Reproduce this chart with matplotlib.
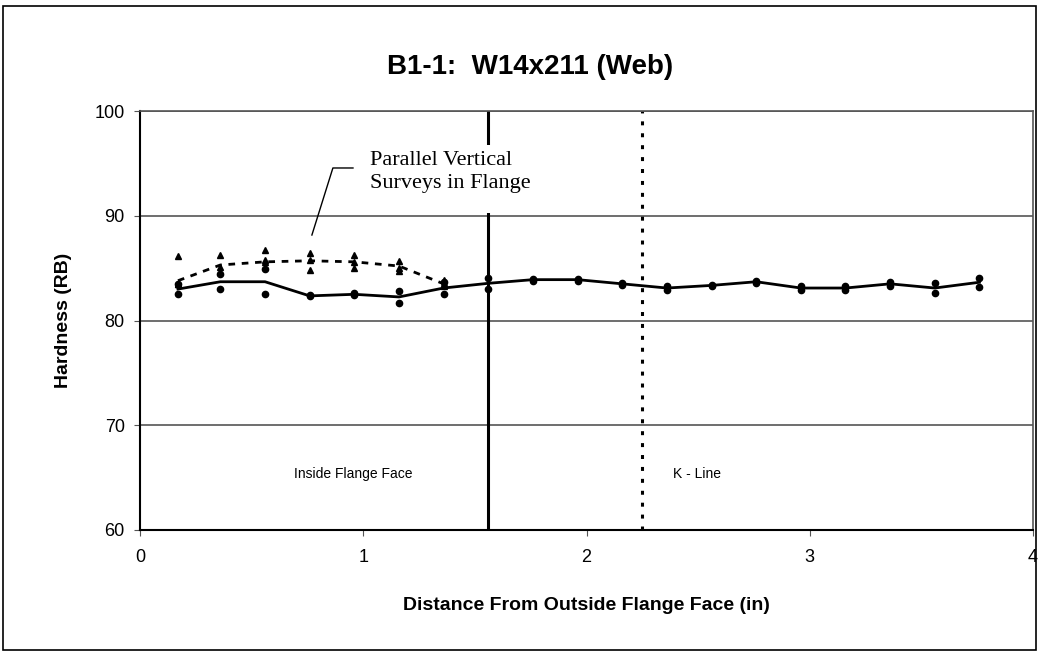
import matplotlib.pyplot as plt
from matplotlib.patches import Rectangle
import numpy as np

plt.rcParams['font.family'] = ['Liberation Sans', 'DejaVu Sans']

# ---- data ----
web_x = [0.17, 0.36, 0.56, 0.76, 0.96, 1.16, 1.36, 1.56, 1.76, 1.96,
         2.16, 2.36, 2.56, 2.76, 2.96, 3.16, 3.36, 3.56, 3.76]
web_a = [82.5, 83.0, 82.5, 82.3, 82.4, 81.7, 82.5, 83.0, 83.8, 83.8,
         83.4, 82.9, 83.3, 83.6, 82.9, 82.9, 83.3, 82.6, 83.2]
web_b = [83.5, 84.4, 84.9, 82.4, 82.6, 82.8, 83.7, 84.1, 84.0, 84.0,
         83.6, 83.3, 83.4, 83.8, 83.3, 83.3, 83.7, 83.6, 84.1]
web_avg = [83.0, 83.7, 83.7, 82.35, 82.5, 82.25, 83.1, 83.55, 83.9, 83.9,
           83.5, 83.1, 83.35, 83.7, 83.1, 83.1, 83.5, 83.1, 83.65]

flange_x = [0.17, 0.36, 0.56, 0.76, 0.96, 1.16, 1.36]
flange_1 = [86.2, 86.3, 86.7, 86.4, 86.3, 85.7, 83.9]
flange_2 = [83.5, 85.1, 85.8, 85.8, 85.6, 85.0, 83.6]
flange_3 = [83.5, 84.6, 85.6, 84.8, 85.0, 84.7, 83.3]
flange_avg = [83.8, 85.3, 85.6, 85.7, 85.6, 85.2, 83.5]

inside_face_x = 1.56
k_line_x = 2.25

fig = plt.figure(figsize=(10.4, 6.56), dpi=100)
ax = fig.add_axes([140/1040, 1-530/656, (1033-140)/1040, (530-111)/656])

# outer border of the chart area
fig.patches.append(Rectangle((3/1040, 6/656), 1033/1040, 644/656, transform=fig.transFigure,
                             fill=False, edgecolor='black', linewidth=1.2))

ax.set_xlim(0, 4)
ax.set_ylim(60, 100)
ax.set_xticks([0, 1, 2, 3, 4])
ax.set_yticks([60, 70, 80, 90, 100])
for yv in [70, 80, 90, 100]:
    ax.axhline(yv, color='#555555', linewidth=1.2, zorder=1)

for s in ['top', 'right']:
    ax.spines[s].set_color('#555555')
    ax.spines[s].set_linewidth(1.2)
for s in ['left', 'bottom']:
    ax.spines[s].set_color('black')
    ax.spines[s].set_linewidth(1.5)
ax.tick_params(axis='both', direction='out', length=4, color='#555555', labelsize=13)
ax.tick_params(axis='x', pad=10)
ax.tick_params(axis='y', pad=7)

# vertical reference lines
ax.axvline(inside_face_x, color='black', linewidth=2.2, zorder=2)
ax.axvline(k_line_x, color='black', linewidth=2.2, linestyle=(0, (1.3, 2.6)), zorder=2)

# flange surveys
for fv in [flange_1, flange_2, flange_3]:
    ax.plot(flange_x, fv, linestyle='none', marker='^', markersize=4.5, color='black', zorder=3)
ax.plot(flange_x, flange_avg, color='black', linewidth=2, linestyle=(0, (2.4, 2.4)), zorder=3)

# web survey
ax.plot(web_x, web_a, linestyle='none', marker='o', markersize=4.5, color='black', zorder=4)
ax.plot(web_x, web_b, linestyle='none', marker='o', markersize=4.5, color='black', zorder=4)
ax.plot(web_x, web_avg, color='black', linewidth=2, zorder=4)

# annotation box and leader line
ax.add_patch(Rectangle((0.97, 90.3), 0.9, 6.45, facecolor='white', edgecolor='none', zorder=5))
ax.text(1.03, 94.2, 'Parallel Vertical\nSurveys in Flange', fontsize=16,
        family=['Liberation Serif', 'DejaVu Serif'], va='center', ha='left',
        linespacing=1.3, zorder=6)
ax.plot([0.954, 0.864, 0.770], [94.56, 94.56, 88.16], color='black', linewidth=1, zorder=6)

ax.text(0.955, 65.35, 'Inside Flange Face', fontsize=10, ha='center', va='center')
ax.text(2.495, 65.35, 'K - Line', fontsize=10, ha='center', va='center')

fig.text(0.51, 1-67/656, 'B1-1:  W14x211 (Web)', fontsize=20, fontweight='bold',
         ha='center', va='center')
ax.set_xlabel('Distance From Outside Flange Face (in)', fontsize=14, fontweight='bold', labelpad=22)
ax.set_ylabel('Hardness (RB)', fontsize=14, fontweight='bold', labelpad=16)

fig.savefig('out.png', dpi=100)
